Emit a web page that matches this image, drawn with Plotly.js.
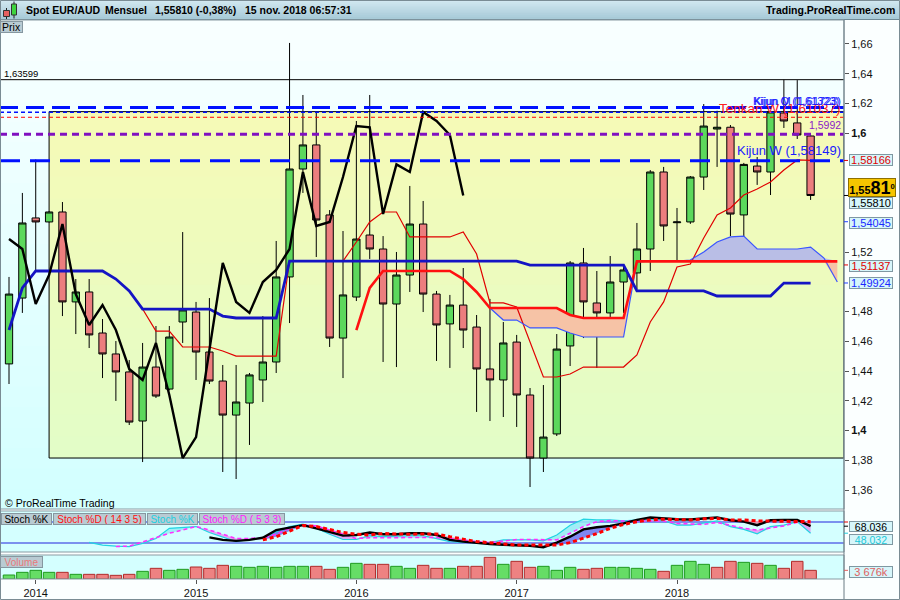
<!DOCTYPE html>
<html><head><meta charset="utf-8">
<script src="https://cdn.plot.ly/plotly-3.0.1.min.js"></script>
<style>html,body{margin:0;padding:0;background:#fff}#chart{width:900px;height:600px}</style>
</head><body><div id="chart"></div>
<script>
// ---------------- DATA ----------------
const months = ['2013-11','2013-12',
 '2014-01','2014-02','2014-03','2014-04','2014-05','2014-06','2014-07','2014-08','2014-09','2014-10','2014-11','2014-12',
 '2015-01','2015-02','2015-03','2015-04','2015-05','2015-06','2015-07','2015-08','2015-09','2015-10','2015-11','2015-12',
 '2016-01','2016-02','2016-03','2016-04','2016-05','2016-06','2016-07','2016-08','2016-09','2016-10','2016-11','2016-12',
 '2017-01','2017-02','2017-03','2017-04','2017-05','2017-06','2017-07','2017-08','2017-09','2017-10','2017-11','2017-12',
 '2018-01','2018-02','2018-03','2018-04','2018-05','2018-06','2018-07','2018-08','2018-09','2018-10','2018-11','2018-12',
 '2019-01'];
const yearLabels = ['2014','2015','2016','2017','2018'];

const open = [1.4448,1.4891,1.5430,1.5403,1.5470,1.4865,1.4932,1.4656,1.4515,1.4394,
 1.4064,1.4427,1.4279,1.4730,1.4797,1.4528,1.4333,1.4104,1.4185,1.4340,
 1.4461,1.5033,1.5759,1.5921,1.5450,1.4622,1.4898,1.5315,1.5221,1.4851,
 1.5046,1.5389,1.4918,1.4717,1.4844,1.4696,1.4414,1.4340,1.4595,1.4239,
 1.3815,1.3977,1.4569,1.5127,1.4858,1.4791,1.4999,1.5060,1.5221,1.5739,
 1.5398,1.5403,1.5705,1.6028,1.6040,1.5450,1.5779,1.5739,1.6136,1.6069,
 1.5981];
const high = [1.5033,1.5598,1.5823,1.5475,1.5537,1.5019,1.5019,1.4750,1.4602,1.4474,
 1.4589,1.4703,1.4703,1.5335,1.4865,1.4891,1.4441,1.4441,1.4387,1.4770,
 1.5275,1.6607,1.6257,1.6143,1.5483,1.5342,1.6082,1.6257,1.5308,1.5201,
 1.5645,1.5544,1.4939,1.4912,1.5093,1.4777,1.4885,1.4730,1.4643,1.4286,
 1.4306,1.4649,1.5140,1.5228,1.5073,1.5174,1.5107,1.5396,1.5752,1.5773,
 1.5497,1.5712,1.6196,1.6151,1.6055,1.5800,1.5840,1.6150,1.6360,1.6357,
 1.5990];
const low = [1.4313,1.4791,1.5066,1.5400,1.4770,1.4649,1.4555,1.4353,1.4199,1.4037,
 1.3788,1.4219,1.4270,1.4589,1.4340,1.4313,1.3721,1.3674,1.3903,1.4192,
 1.4387,1.4723,1.5598,1.5167,1.4562,1.4353,1.4871,1.5154,1.4461,1.4427,
 1.4932,1.4797,1.4468,1.4421,1.4555,1.4125,1.4064,1.4091,1.4024,1.3620,
 1.3721,1.3963,1.4434,1.4622,1.4421,1.4696,1.4791,1.4952,1.5073,1.5275,
 1.5147,1.5390,1.5618,1.5773,1.5308,1.5268,1.5652,1.5584,1.6035,1.5961,
 1.5551];
const close = [1.4918,1.5396,1.5403,1.5470,1.4865,1.4932,1.4643,1.4515,1.4394,1.4057,
 1.4427,1.4232,1.4629,1.4811,1.4528,1.4333,1.4104,1.4192,1.4374,1.4461,
 1.5033,1.5759,1.5921,1.5416,1.4622,1.4912,1.5288,1.5221,1.4851,1.5046,
 1.5389,1.4918,1.4710,1.4844,1.4676,1.4414,1.4340,1.4589,1.4239,1.3815,
 1.3956,1.4548,1.5127,1.4865,1.4791,1.4999,1.5080,1.5221,1.5739,1.5376,
 1.5403,1.5705,1.6048,1.6040,1.5456,1.5790,1.5739,1.6143,1.6082,1.5988,
 1.5581];

// volume in thousands, and its colour (u = up, d = down) as shown
const volume = [1697,2828,3676,2828,2828,1980,1980,1980,1555,1980,
 3252,4525,3676,4101,5090,4525,5797,5373,4949,5373,
 4949,5373,5373,5373,4101,4949,6646,6222,6222,5373,
 4525,5797,4525,4525,5373,5373,9191,6222,7494,4949,
 5373,3676,4949,4101,4525,4949,4949,4525,4101,3252,
 5797,7494,6222,4949,7494,7070,6646,5797,4525,7494,
 3676];
const volDir = ['u','u','u','u','d','u','d','d','d','d',
 'u','d','u','u','d','d','d','u','u','u',
 'u','u','u','d','d','u','u','d','d','u',
 'u','d','d','u','d','d','d','u','d','d',
 'u','u','u','d','d','u','u','u','u','d',
 'u','u','u','d','d','u','d','u','d','d',
 'd'];

// Ichimoku lines (each starts at the given month index)
const kijunStart = 0;
const kijun = [1.4676,1.4959,1.5073,1.5073,1.5073,1.5073,1.5073,1.5073,1.5019,1.4939,
 1.4817,1.4817,1.4817,1.4817,1.4817,1.4817,1.4770,1.4757,1.4757,1.4757,
 1.4757,1.5140,1.5140,1.5140,1.5140,1.5140,1.5140,1.5140,1.5140,1.5140,
 1.5140,1.5140,1.5140,1.5140,1.5140,1.5140,1.5140,1.5140,1.5140,1.5113,
 1.5113,1.5113,1.5113,1.5113,1.5113,1.5113,1.5113,1.4939,1.4939,1.4939,
 1.4939,1.4939,1.4939,1.4905,1.4905,1.4905,1.4905,1.4905,1.4992,1.4992,
 1.4992];
const tenkanStart = 10;
const tenkan = [1.4817,1.4669,1.4669,1.4562,1.4562,1.4562,1.4535,1.4501,1.4501,1.4501,
 1.4501,1.5140,1.5140,1.5140,1.5140,1.5140,1.5268,1.5403,1.5470,1.5470,
 1.5302,1.5302,1.5302,1.5302,1.5335,1.5187,1.4858,1.4858,1.4831,1.4595,
 1.4360,1.4360,1.4380,1.4427,1.4427,1.4427,1.4427,1.4508,1.4730,1.4865,
 1.5100,1.5120,1.5295,1.5450,1.5497,1.5584,1.5625,1.5672,1.5752,1.5820,
 1.5817];
const spanBStart = 26;
const spanB = [1.4676,1.4959,1.5073,1.5073,1.5073,1.5073,1.5073,1.5073,1.5019,1.4932,
 1.4824,1.4824,1.4824,1.4824,1.4824,1.4824,1.4777,1.4757,1.4757,1.4757,
 1.4757,1.5138,1.5138,1.5138,1.5138,1.5138,1.5138,1.5138,1.5138,1.5138,
 1.5138,1.5138,1.5138,1.5138,1.5138,1.5138,1.5138];
const spanAStart = 36;
const spanA = [1.4824,1.4743,1.4743,1.4690,1.4690,1.4690,1.4656,1.4629,1.4629,1.4629,
 1.4629,1.5134,1.5140,1.5140,1.5140,1.5147,1.5201,1.5268,1.5302,1.5308,
 1.5221,1.5221,1.5221,1.5221,1.5234,1.5160,1.4999];
const chikouShift = 26; // chikou = close drawn 26 months back

// Stochastics
const k5Start = 6;
const stochK5 = [22,14,11,9.5,19,33,62,65,67,50,
 36,24,30,35,52,67,74,62,45,30,
 30,41,38,40,41,41,33,24,22,21,
 21,29,29,29,26,43,71,88,86,86,
 83,86,88,84,71,71,76,83,67,59,
 46,67,71,81,48.032];
const d5Start = 8;
const stochD5 = [10,11,23,35,48,57,67,57,45,33,
 33,35,45,62,71,69,57,45,33,35,
 35,36,36,36,36,33,28,24,21,25,
 30,30,30,29,48,67,81,84,83,83,
 84,83,76,74,73,79,70,62,57,62,
 69,79,81];
const k14Start = 15;
const stochK14 = [36,29,26,29,35,57,64,71,62,52,
 41,43,50,45,45,48,48,43,29,24,
 20,17,15,14,12,8,21,38,59,65,
 69,76,86,93,90,88,87,90,93,85,
 81,71,85,86,86,68.036];
const d14Start = 19;
const stochD14 = [29,38,54,70,67,59,50,45,43,47,
 45,45,46,46,38,30,24,21,17,14,
 14,14,14,21,33,47,62,73,81,86,
 88,86,86,89,90,86,86,83,83,83,
 81,81];

// Horizontal levels
const levelHigh = 1.63599, levelKijunM = 1.61723, levelKijunQ = 1.6140,
      levelTenkanW = 1.6107, levelFib = 1.5992, levelKijunW = 1.58149;
const boxTop = 1.6145, boxBottom = 1.3815, boxStartMonth = '2014-02';
const stochHi = 80, stochLo = 20;

const priceTicks = [1.36,1.38,1.40,1.42,1.44,1.46,1.48,1.52,1.60,1.62,1.64,1.66];
const priceTickText = ['1,36','1,38','<b>1,4</b>','1,42','1,44','1,46','1,48','1,52','<b>1,6</b>','1,62','1,64','1,66'];

// ---------------- HELPERS ----------------
const FONT = 'Liberation Sans, Arial, sans-serif';
const H0 = 20, H1 = 579, HH = H1 - H0, W = 844;
const py = p => (H1 - p) / HH;
const px = p => p / W;
const idx = months.map((_, i) => i);
const seqX = (start, arr) => arr.map((_, j) => idx[start + j]);

function hex(c){const n=parseInt(c.slice(1),16);return [(n>>16)&255,(n>>8)&255,n&255];}
function mix(a,b,t){const A=hex(a),B=hex(b);return 'rgb('+A.map((v,i)=>Math.round(v+(B[i]-v)*t)).join(',')+')';}
function gradient(xref,x0,x1,yref,yB,yT,cB,cT,n){
  const out=[];
  for(let k=0;k<n;k++){
    out.push({type:'rect',layer:'below',xref,yref,x0,x1,y0:yB+(yT-yB)*k/n,y1:yT,
      fillcolor:mix(cB,cT,(k+0.5)/n),line:{width:0}});
  }
  return out;
}
function envelope(aStart,a,bStart,b){
  const s=Math.max(aStart,bStart), e=Math.min(aStart+a.length,bStart+b.length);
  const x=[],av=[],bv=[];
  for(let i=s;i<e;i++){x.push(idx[i]);av.push(a[i-aStart]);bv.push(b[i-bStart]);}
  return {x,bv,hi:av.map((v,j)=>Math.max(v,bv[j])),lo:av.map((v,j)=>Math.min(v,bv[j]))};
}
function fillTraces(env,yaxis,upColor,downColor){
  const base={x:env.x,y:env.bv,yaxis,mode:'lines',line:{width:0},hoverinfo:'skip'};
  return [base,
    {x:env.x,y:env.hi,yaxis,mode:'lines',line:{width:0},fill:'tonexty',fillcolor:upColor,hoverinfo:'skip'},
    Object.assign({},base),
    {x:env.x,y:env.lo,yaxis,mode:'lines',line:{width:0},fill:'tonexty',fillcolor:downColor,hoverinfo:'skip'}];
}
const line = (x,y,yaxis,color,width,dash) => ({x,y,yaxis,mode:'lines',line:{color,width,dash:dash||'solid'},hoverinfo:'skip'});

// ---------------- TRACES ----------------
const candleX = idx.slice(0, close.length);
const traces = [];
traces.push(...fillTraces(envelope(spanAStart,spanA,spanBStart,spanB),'y','#b9bee6','#f6c3a6'));
traces.push({type:'candlestick',x:candleX,open,high,low,close,yaxis:'y',
  increasing:{line:{color:'#000',width:1},fillcolor:'#5cd85c'},
  decreasing:{line:{color:'#000',width:1},fillcolor:'#ec7e7e'},
  whiskerwidth:0,hoverinfo:'skip'});
traces.push(line(seqX(tenkanStart,tenkan),tenkan,'y','#e00000',1.2));
traces.push(line(seqX(spanAStart,spanA),spanA,'y','#3a55ff',1.2));
traces.push(line(seqX(spanBStart,spanB),spanB,'y','#ff1010',2.6));
traces.push(line(seqX(kijunStart,kijun),kijun,'y','#1414c4',2.8));
const chikou = close.slice(chikouShift);
traces.push(line(seqX(0,chikou),chikou,'y','#000',2.4));

traces.push(...fillTraces(envelope(k5Start,stochK5,d5Start,stochD5),'y2','rgba(150,235,245,0.85)','rgba(226,150,242,0.85)'));
traces.push(...fillTraces(envelope(k14Start,stochK14,d14Start,stochD14),'y2','rgba(105,105,238,0.8)','rgba(242,160,175,0.85)'));
traces.push(line(seqX(k5Start,stochK5),stochK5,'y2','#22d4e2',1.2));
traces.push(line(seqX(d5Start,stochD5),stochD5,'y2','#ff30ff',1.6,'4px,3px'));
traces.push(line(seqX(k14Start,stochK14),stochK14,'y2','#000',2.4));
traces.push(line(seqX(d14Start,stochD14),stochD14,'y2','#ff0000',3,'4px,3px'));

traces.push({type:'bar',x:candleX,y:volume,yaxis:'y3',hoverinfo:'skip',
  marker:{color:volDir.map(d=>d==='u'?'#66dd66':'#ee8282'),
          line:{color:volDir.map(d=>d==='u'?'#1e9a1e':'#b02a2a'),width:1}}});

// ---------------- SHAPES ----------------
const shapes = [];
shapes.push(...gradient('paper',0,1.0664,'paper',py(19),py(0),'#a6c9d7','#d3e9f1',10));
shapes.push({type:'line',xref:'paper',yref:'paper',x0:0,x1:1.0664,y0:py(19.5),y1:py(19.5),line:{color:'#6f8a96',width:1}});
shapes.push(...gradient('paper',0,1,'paper',py(509),py(20),'#d2ffff','#f9ffff',24));
const boxX0 = idx[months.indexOf(boxStartMonth)];
shapes.push(...gradient('x',boxX0,62.5,'y',boxBottom,boxTop,'#e2fdc8','#f6fab6',16));
shapes.push({type:'rect',layer:'below',xref:'x',yref:'y',x0:boxX0,x1:62.5,y0:boxBottom,y1:boxTop,line:{color:'#000',width:1}});
const hl = (y,color,width,dash) => ({type:'line',layer:'above',xref:'paper',yref:'y',x0:0,x1:1,y0:y,y1:y,line:{color,width,dash}});
shapes.push(hl(levelHigh,'#000',1,'solid'));
shapes.push(hl(levelKijunM,'#0010ff',3,'18px,8px'));
shapes.push(hl(levelKijunQ,'#0010ff',1.5,'4px,3px'));
shapes.push(hl(levelTenkanW,'#ff0000',1,'4px,3px'));
shapes.push(hl(levelFib,'#8010c0',3,'7px,5px'));
shapes.push(hl(levelKijunW,'#0010ff',3,'20px,10px'));
[stochHi,stochLo].forEach(v=>shapes.push({type:'line',layer:'below',xref:'paper',yref:'y2',x0:0,x1:1,y0:v,y1:v,line:{color:'#2222dd',width:1}}));
[[20,509],[511,552],[555,579]].forEach(([a,b])=>shapes.push({type:'rect',layer:'above',xref:'paper',yref:'paper',x0:0,x1:1,y0:py(b),y1:py(a),line:{color:'#8a9ba3',width:1}}));
shapes.push({type:'line',xref:'paper',yref:'paper',x0:1,x1:1,y0:py(600),y1:py(20),line:{color:'#6a7c84',width:1}});
shapes.push({type:'rect',xref:'paper',yref:'paper',x0:px(0.5),x1:px(899.5),y0:py(599.5),y1:py(0.5),line:{color:'#7a8c94',width:1}});
const rt = (y,yref,color) => ({type:'line',xref:'paper',yref,x0:1,x1:px(848),y0:y,y1:y,line:{color,width:1}});
shapes.push(rt(1.58166,'y','#e00000'), rt(1.54045,'y','#2040ff'), rt(1.51137,'y','#e00000'), rt(1.49924,'y','#2040ff'), rt(close[close.length-1],'y','#000'));
shapes.push(rt(stochHi,'y2','#e00000'), rt(68.036,'y2','#000'), rt(48.032,'y2','#20c8d8'), rt(3676,'y3','#e06060'));
const ic = (x0,x1,y0,y1,fill) => ({type:'rect',xref:'paper',yref:'paper',x0:px(x0),x1:px(x1),y0:py(y1),y1:py(y0),fillcolor:fill,line:{color:'#333',width:1}});
const il = (x,y0,y1) => ({type:'line',xref:'paper',yref:'paper',x0:px(x),x1:px(x),y0:py(y1),y1:py(y0),line:{color:'#222',width:1}});
shapes.push(il(6.5,8,19), ic(3.5,9.5,10.5,16.5,'#e66060'), il(14,1.5,18.5), ic(11.5,16.5,4,15,'#3fd43f'));

// ---------------- ANNOTATIONS ----------------
const ann = [];
const txt = (o) => Object.assign({showarrow:false,font:{family:FONT,size:11,color:'#000'}},o);
[['Spot EUR/AUD',24],['Mensuel',103],['1,55810 (-0,38%)',153],['15 nov. 2018 06:57:31',243]].forEach(([t,x])=>
  ann.push(txt({text:'<b>'+t+'</b>',xref:'paper',yref:'paper',x:px(x),y:py(10),xanchor:'left',yanchor:'middle',font:{family:FONT,size:10.5,color:'#000'}})));
ann.push(txt({text:'<b>Trading.ProRealTime.com</b>',xref:'paper',yref:'paper',x:px(897),y:py(10),xanchor:'right',yanchor:'middle',font:{family:FONT,size:10.5,color:'#000'}}));
const tab = (t,x0,x1,ymid,color,size) => txt({text:t,xref:'paper',yref:'paper',x:px(x0),y:py(ymid),xanchor:'left',yanchor:'middle',
  width:x1-x0-2,height:10,align:'center',bgcolor:'#b9cbd3',bordercolor:'#8697a0',borderwidth:1,borderpad:0,font:{family:FONT,size:size||10,color}});
ann.push(tab('Prix',0,23,27,'#000',10.5));
ann.push(tab('Volume',0,43,562,'#e87a7a',10));
ann.push(tab('Stoch %K',1,52,519,'#000'));
ann.push(tab('Stoch %D ( 14 3 5)',53,146,519,'#ff1010'));
ann.push(tab('Stoch %K',147,198,519,'#20d0e0'));
ann.push(tab('Stoch %D ( 5 3 3)',199,285,519,'#ff20ff'));
ann.push(txt({text:'© ProRealTime Trading',xref:'paper',yref:'paper',x:px(3),y:py(503),xanchor:'left',yanchor:'middle',font:{family:FONT,size:10.5,color:'#000'}}));
ann.push(txt({text:'1,63599',xref:'paper',yref:'y',x:px(2),y:levelHigh,xanchor:'left',yanchor:'bottom',yshift:-1,font:{family:FONT,size:9.5,color:'#000'}}));
ann.push(txt({text:'Tenkan W (1,61037)',xref:'paper',yref:'y',x:px(843),y:1.6163,xanchor:'right',yanchor:'middle',font:{family:FONT,size:13.5,color:'#ff2020'}}));
ann.push(txt({text:'Kijun M (1,61723)',xref:'paper',yref:'y',x:px(843),y:1.6217,xanchor:'right',yanchor:'middle',font:{family:FONT,size:11,color:'#1a1aff'}}));
ann.push(txt({text:'Kijun Q (1,61323)',xref:'paper',yref:'y',x:px(841),y:1.6214,xanchor:'right',yanchor:'middle',font:{family:FONT,size:11,color:'#1a1aff'}}));
ann.push(txt({text:'1,5992',xref:'paper',yref:'y',x:px(843),y:levelFib,xanchor:'right',yanchor:'bottom',yshift:1,font:{family:FONT,size:10.5,color:'#8a20c8'}}));
ann.push(txt({text:'Kijun W (1,58149)',xref:'paper',yref:'y',x:px(843),y:levelKijunW,xanchor:'right',yanchor:'bottom',yshift:1,font:{family:FONT,size:13,color:'#1a1aff'}}));
const vbox = (t,y,yref,color,opts) => txt(Object.assign({text:t,xref:'paper',yref,x:px(849),y,xanchor:'left',yanchor:'middle',
  width:42,height:10,align:'center',bgcolor:'#d6f6fa',bordercolor:'#7f98a2',borderwidth:1,borderpad:0,font:{family:FONT,size:11,color}},opts||{}));
ann.push(vbox('1,58166',1.58166,'y','#e00000'));
ann.push(vbox('1,54045',1.54045,'y','#1a2aff',{yshift:-1}));
ann.push(vbox('1,51137',1.51137,'y','#e00000',{yshift:-1}));
ann.push(vbox('1,49924',1.49924,'y','#1a2aff'));
ann.push(vbox('1,55810',close[close.length-1],'y','#000',{yanchor:'top',yshift:-2}));
ann.push(txt({text:'<b>1,55<span style="font-size:18px">81</span><sup>0</sup></b>',xref:'paper',yref:'y',x:px(848),y:close[close.length-1],
  xanchor:'left',yanchor:'bottom',yshift:-2,width:46,height:17,align:'center',bgcolor:'#f6c500',bordercolor:'#8e7000',borderwidth:1,borderpad:0,
  font:{family:FONT,size:11,color:'#000'}}));
ann.push(vbox('68,036',stochK14[stochK14.length-1],'y2','#000',{yanchor:'bottom',yshift:-6,height:9,font:{family:FONT,size:10.5,color:'#000'}}));
ann.push(vbox('48,032',stochK5[stochK5.length-1],'y2','#20c8d8',{yanchor:'top',yshift:-1,height:9,font:{family:FONT,size:10.5,color:'#20c8d8'}}));
ann.push(vbox('3 676k',volume[volume.length-1],'y3','#e06060',{yshift:-2}));

// ---------------- LAYOUT ----------------
const layout = {
  width:900,height:600,margin:{l:0,r:56,t:20,b:21,pad:0},
  paper_bgcolor:'#fbffff',plot_bgcolor:'#d4ffff',
  separators:', ',showlegend:false,hovermode:false,dragmode:false,
  boxgap:0.22,bargap:0.14,
  font:{family:FONT,size:11,color:'#000'},
  xaxis:{type:'linear',range:[-0.674,62.5],anchor:'y3',
    tickvals:yearLabels.map(y=>idx[months.indexOf(y+'-01')]),ticktext:yearLabels,
    ticks:'outside',ticklen:4,tickcolor:'#555',showgrid:false,zeroline:false,showline:false,
    tickfont:{family:FONT,size:11,color:'#111'},rangeslider:{visible:false},fixedrange:true},
  yaxis:{domain:[py(509),1],range:[1.34722,1.67613],side:'right',anchor:'x',
    tickvals:priceTicks,ticktext:priceTickText,ticks:'outside',ticklen:4,tickcolor:'#555',
    showgrid:false,zeroline:false,showline:false,tickfont:{family:FONT,size:11,color:'#111'},fixedrange:true},
  yaxis2:{domain:[py(552),py(511)],range:[-5.71,111.43],anchor:'x',showticklabels:false,ticks:'',showgrid:false,zeroline:false,fixedrange:true},
  yaxis3:{domain:[0,py(555)],range:[0,10181],anchor:'x',showticklabels:false,ticks:'',showgrid:false,zeroline:false,fixedrange:true},
  shapes, annotations:ann
};
Plotly.newPlot('chart',traces,layout,{staticPlot:true,displayModeBar:false});
</script>
</body></html>
